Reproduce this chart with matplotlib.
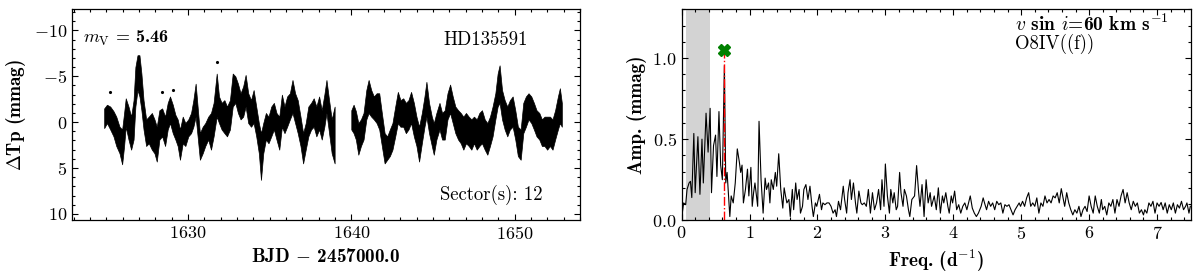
import numpy as np
import matplotlib
matplotlib.use("Agg")
import matplotlib.pyplot as plt
from matplotlib.ticker import MultipleLocator

plt.rcParams["font.family"] = "serif"
plt.rcParams["font.serif"] = ["cmr10"]
plt.rcParams["mathtext.fontset"] = "cm"
plt.rcParams["axes.formatter.use_mathtext"] = True

# light curve: time, bright edge, faint edge (mmag)
lc_time = [1624.87, 1625.04, 1625.24, 1625.44, 1625.61, 1625.81, 1625.97, 1626.09,
           1626.19, 1626.36, 1626.52, 1626.67, 1626.78, 1626.91, 1627.03, 1627.15,
           1627.28, 1627.44, 1627.60, 1627.79, 1627.95, 1628.09, 1628.25, 1628.42,
           1628.60, 1628.76, 1628.90, 1629.07, 1629.23, 1629.37, 1629.51, 1629.68,
           1629.84, 1630.02, 1630.19, 1630.33, 1630.47, 1630.59, 1630.73, 1630.90,
           1631.06, 1631.24, 1631.41, 1631.57, 1631.76, 1631.90, 1632.06, 1632.23,
           1632.39, 1632.57, 1632.74, 1632.90, 1633.06, 1633.22, 1633.38, 1633.53,
           1633.69, 1633.86, 1634.02, 1634.18, 1634.34, 1634.47, 1634.61, 1634.77,
           1634.93, 1635.10, 1635.26, 1635.42, 1635.59, 1635.75, 1635.91, 1636.07,
           1636.24, 1636.40, 1636.56, 1636.72, 1636.89, 1637.05, 1637.21, 1637.37,
           1637.54, 1637.70, 1637.86, 1638.03, 1638.19, 1638.35, 1638.48, 1638.64,
           1638.80, 1638.98,
           1640.00, 1640.14, 1640.28, 1640.43, 1640.59, 1640.75, 1640.92, 1641.06,
           1641.22, 1641.38, 1641.55, 1641.71, 1641.87, 1642.04, 1642.20, 1642.36,
           1642.52, 1642.69, 1642.85, 1643.01, 1643.18, 1643.34, 1643.50, 1643.66,
           1643.83, 1643.99, 1644.15, 1644.32, 1644.48, 1644.60, 1644.76, 1644.93,
           1645.05, 1645.21, 1645.40, 1645.56, 1645.72, 1645.89, 1646.05, 1646.21,
           1646.37, 1646.54, 1646.70, 1646.86, 1647.02, 1647.19, 1647.35, 1647.51,
           1647.68, 1647.84, 1648.00, 1648.17, 1648.33, 1648.49, 1648.65, 1648.82,
           1648.96, 1649.08, 1649.23, 1649.39, 1649.55, 1649.71, 1649.88, 1650.04,
           1650.20, 1650.37, 1650.53, 1650.69, 1650.85, 1651.02, 1651.18, 1651.34,
           1651.51, 1651.67, 1651.83, 1651.99, 1652.16, 1652.32, 1652.48, 1652.65,
           1652.77, 1652.89]
lc_bright = [-1.5, -1.9, -1.7, -1.2, -0.6, 0.5, 0.8, -1.0,
             -2.6, -1.7, -0.6, -2.4, -6.0, -7.3, -7.3, -5.3,
             -2.4, -0.3, -0.6, -1.0, -0.3, 0.5, -1.3, -1.5,
             -0.6, -2.1, -2.8, -1.9, -0.8, -0.3, 0.8, -0.6,
             0.1, -0.3, -1.0, -2.4, -4.2, -1.7, 1.2, 0.5,
             0.1, -0.6, -1.0, -2.1, -5.3, -2.8, -2.1, -2.4,
             -1.7, -2.4, -5.3, -5.0, -4.2, -3.15, -3.9, -5.15,
             -3.15, -2.4, -3.5, -1.7, 0.1, 1.2, 0.1, -1.0,
             -0.6, -1.7, -2.1, -1.0, -0.6, -3.0, -1.7, -2.8,
             -3.15, -4.6, -3.15, -2.4, -0.6, 1.2, 0.1, -1.7,
             -2.1, -2.6, -1.7, -2.8, -1.3, -3.0, -4.6, -2.4,
             -0.3, -1.7,
             -1.3, -1.9, -1.2, 0.1, -0.3, -1.0, -3.5, -4.6,
             -3.5, -2.8, -3.15, -3.15, -1.0, 1.2, 1.55, 0.8,
             0.1, -1.7, -3.3, -2.4, -2.6, -2.1, -2.4, -3.3,
             -2.1, -0.6, 0.5, -1.0, -2.8, -4.4, -2.1, -0.6,
             0.1, -1.0, -2.1, -1.0, -1.3, -3.15, -4.1, -2.8,
             -1.7, -1.3, -1.0, -0.6, -1.0, -0.6, -0.3, -0.6,
             -0.3, -1.0, -1.3, -0.3, 0.1, -0.6, -1.7, -3.15,
             -5.3, -6.2, -3.5, -2.4, -1.7, -2.4, -2.8, -1.3,
             0.5, 0.8, -2.1, -2.8, -3.15, -2.8, -2.1, -1.3,
             -1.0, -0.3, -0.6, -0.6, -0.6, -0.3, -1.3, -2.8,
             -3.7, -2.1]
lc_faint = [0.65, 0.1, 0.8, 1.55, 2.6, 3.4, 4.6, 2.6,
            0.5, 1.9, 3.0, 1.9, -1.7, -3.5, -2.8, -1.3,
            0.8, 2.6, 2.3, 3.0, 3.4, 4.3, 1.9, 1.55,
            2.6, 0.8, 0.1, 1.2, 1.9, 2.6, 4.1, 2.3,
            2.6, 1.55, 1.2, 0.5, -0.6, 1.55, 4.1, 3.4,
            2.6, 1.9, 3.0, 1.55, -0.6, 0.1, 0.8, 1.2,
            1.55, 0.8, -1.7, -2.1, -1.0, -0.3, -0.6, -1.7,
            0.1, 0.5, 0.1, 1.55, 3.4, 6.3, 3.4, 1.9,
            2.3, 1.55, 0.8, 1.9, 3.0, 0.5, 1.2, 0.5,
            -0.3, -1.0, 0.1, 1.2, 2.6, 4.5, 3.0, 1.55,
            0.8, 0.5, 1.55, 0.8, 1.9, 0.5, -1.0, 1.2,
            3.4, 4.5,
            0.8, 1.2, 1.9, 3.55, 2.6, 1.9, -0.3, -1.0,
            -0.6, -0.3, 0.1, 0.8, 2.6, 4.5, 4.1, 3.7,
            3.0, 1.55, 0.1, 0.5, 0.5, 1.2, 0.8, 0.1,
            1.55, 2.6, 4.3, 2.3, 0.5, -0.6, 1.2, 2.6,
            3.55, 1.9, 0.8, 1.9, 1.9, -0.3, -1.0, 0.1,
            1.2, 1.9, 2.3, 3.0, 2.3, 2.6, 3.0, 2.3,
            3.0, 2.6, 2.3, 3.0, 3.55, 2.6, 1.55, -0.3,
            -1.7, -2.1, -0.3, 0.8, 1.55, 0.8, 0.5, 1.9,
            3.7, 4.1, 1.2, 0.5, -0.3, 0.1, 0.8, 1.55,
            1.9, 2.6, 2.6, 3.0, 2.6, 3.0, 1.9, 0.8,
            0.1, 0.5]
# a few isolated points
out_time = [1625.24, 1628.43, 1629.07, 1631.75]
out_flux = [-3.3, -3.3, -3.55, -6.6]

# amplitude spectrum
freq = [0.01, 0.03, 0.06, 0.08, 0.11, 0.13, 0.15, 0.18, 0.20, 0.24, 0.27, 0.30,
        0.32, 0.36, 0.39, 0.42, 0.44, 0.47, 0.50, 0.52, 0.55, 0.575, 0.60, 0.63,
        0.65, 0.67, 0.71, 0.73, 0.76, 0.79, 0.82, 0.85, 0.87, 0.89, 0.91, 0.94,
        0.97, 0.99, 1.02, 1.04, 1.06, 1.08, 1.12, 1.14, 1.17, 1.20, 1.23, 1.25,
        1.28, 1.30, 1.32, 1.35, 1.38, 1.40, 1.43, 1.46, 1.49, 1.51, 1.53, 1.55,
        1.58, 1.60, 1.63, 1.65, 1.68, 1.70, 1.73, 1.75, 1.78, 1.80, 1.83, 1.86,
        1.89, 1.92, 1.94, 1.97, 1.99, 2.03, 2.06, 2.08, 2.11, 2.14, 2.17, 2.20,
        2.23, 2.26, 2.28, 2.31, 2.34, 2.38, 2.40, 2.43, 2.45, 2.48, 2.50, 2.53,
        2.56, 2.58, 2.61, 2.64, 2.66, 2.69, 2.72, 2.75, 2.78, 2.81, 2.84, 2.87,
        2.90, 2.93, 2.95, 2.98, 3.00, 3.03, 3.06, 3.08, 3.11, 3.13, 3.16, 3.18,
        3.21, 3.23, 3.26, 3.28, 3.31, 3.34, 3.36, 3.39, 3.43, 3.46, 3.49, 3.51,
        3.54, 3.57, 3.60, 3.63, 3.66, 3.68, 3.72, 3.75, 3.78, 3.81, 3.84, 3.86,
        3.89, 3.92, 3.94, 3.97, 3.99, 4.02, 4.05, 4.08, 4.11, 4.14, 4.17, 4.20,
        4.23, 4.25, 4.28, 4.31, 4.34, 4.37, 4.41, 4.44, 4.46, 4.49, 4.52, 4.55,
        4.58, 4.61, 4.64, 4.67, 4.70, 4.73, 4.76, 4.79, 4.82, 4.85, 4.88, 4.91,
        4.94, 4.97, 4.99, 5.02, 5.05, 5.08, 5.11, 5.14, 5.17, 5.20, 5.23, 5.26,
        5.29, 5.32, 5.35, 5.38, 5.41, 5.44, 5.47, 5.50, 5.53, 5.56, 5.59, 5.62,
        5.64, 5.67, 5.70, 5.73, 5.76, 5.79, 5.82, 5.85, 5.88, 5.91, 5.94, 5.97,
        6.00, 6.03, 6.06, 6.09, 6.12, 6.15, 6.18, 6.20, 6.23, 6.26, 6.29, 6.32,
        6.35, 6.38, 6.41, 6.44, 6.47, 6.50, 6.53, 6.56, 6.59, 6.62, 6.65, 6.68,
        6.71, 6.74, 6.77, 6.80, 6.82, 6.85, 6.88, 6.91, 6.94, 6.97, 7.00, 7.03,
        7.06, 7.09, 7.12, 7.15, 7.18, 7.21, 7.24, 7.27, 7.30, 7.33, 7.36, 7.39,
        7.42, 7.44, 7.47, 7.49]
amp = [0.044, 0.107, 0.096, 0.19, 0.23, 0.24, 0.14, 0.535, 0.17, 0.515, 0.16, 0.50,
       0.23, 0.66, 0.42, 0.69, 0.17, 0.46, 0.525, 0.27, 0.67, 0.34, 0.25, 0.954,
       0.23, 0.295, 0.023, 0.15, 0.107, 0.23, 0.44, 0.36, 0.295, 0.34, 0.107, 0.19,
       0.315, 0.15, 0.326, 0.086, 0.17, 0.23, 0.086, 0.61, 0.25, 0.044, 0.26, 0.19,
       0.23, 0.107, 0.25, 0.19, 0.295, 0.21, 0.41, 0.19, 0.075, 0.20, 0.15, 0.107,
       0.128, 0.023, 0.19, 0.065, 0.23, 0.128, 0.19, 0.044, 0.086, 0.19, 0.22, 0.128,
       0.21, 0.086, 0.023, 0.107, 0.086, 0.16, 0.065, 0.107, 0.096, 0.107, 0.107, 0.086,
       0.044, 0.065, 0.023, 0.117, 0.065, 0.21, 0.128, 0.044, 0.17, 0.25, 0.128, 0.23,
       0.107, 0.044, 0.18, 0.107, 0.096, 0.107, 0.086, 0.19, 0.044, 0.17, 0.065, 0.107,
       0.19, 0.065, 0.25, 0.086, 0.347, 0.15, 0.044, 0.19, 0.107, 0.17, 0.065, 0.086,
       0.295, 0.17, 0.086, 0.19, 0.15, 0.065, 0.023, 0.128, 0.15, 0.337, 0.17, 0.086,
       0.22, 0.023, 0.25, 0.107, 0.17, 0.086, 0.15, 0.065, 0.20, 0.044, 0.15, 0.107,
       0.17, 0.086, 0.044, 0.15, 0.107, 0.18, 0.065, 0.096, 0.044, 0.086, 0.107, 0.065,
       0.117, 0.15, 0.075, 0.044, 0.023, 0.044, 0.086, 0.138, 0.107, 0.065, 0.117, 0.086,
       0.107, 0.065, 0.117, 0.096, 0.107, 0.044, 0.096, 0.086, 0.096, 0.065, 0.033, 0.065,
       0.086, 0.107, 0.086, 0.117, 0.086, 0.138, 0.17, 0.086, 0.107, 0.086, 0.138, 0.044,
       0.107, 0.086, 0.15, 0.107, 0.128, 0.107, 0.15, 0.138, 0.17, 0.107, 0.195, 0.128,
       0.086, 0.17, 0.107, 0.065, 0.033, 0.065, 0.044, 0.086, 0.023, 0.065, 0.086, 0.054,
       0.15, 0.086, 0.044, 0.15, 0.086, 0.044, 0.128, 0.065, 0.086, 0.033, 0.107, 0.086,
       0.128, 0.044, 0.128, 0.086, 0.15, 0.19, 0.107, 0.17, 0.107, 0.065, 0.117, 0.086,
       0.107, 0.044, 0.065, 0.033, 0.065, 0.044, 0.107, 0.086, 0.117, 0.044, 0.107, 0.086,
       0.11, 0.065, 0.107, 0.044, 0.096, 0.065, 0.107, 0.044, 0.096, 0.075, 0.117, 0.065,
       0.086, 0.107, 0.044, 0.086]

f_peak = 0.63
a_mark = 1.048
low_freq_band = (0.06, 0.42)

fig = plt.figure(figsize=(12, 2.75), dpi=100)
ax1 = fig.add_axes([0.06, 0.199, 0.4233, 0.767])
ax2 = fig.add_axes([0.568, 0.199, 0.4245, 0.767])

# --- light curve ---
t = np.array(lc_time)
hi = np.array(lc_bright)
lo = np.array(lc_faint)
cut = np.argmax(np.diff(t) > 0.5) + 1
for s in (slice(0, cut), slice(cut, None)):
    ax1.fill_between(t[s], hi[s], lo[s], color="k", lw=0.5, edgecolor="k")
ax1.plot(out_time, out_flux, "k.", ms=2.5)

ax1.set_xlim(1622.9, 1654.0)
ax1.set_ylim(10.7, -12.3)
ax1.xaxis.set_major_locator(MultipleLocator(10))
ax1.xaxis.set_minor_locator(MultipleLocator(1))
ax1.yaxis.set_major_locator(MultipleLocator(5))
ax1.yaxis.set_minor_locator(MultipleLocator(1))
ax1.set_xlabel("BJD $-$ 2457000.0", family="cmb10", fontsize=13.8)
ax1.set_ylabel(r"$\Delta$Tp (mmag)", family="cmb10", fontsize=13.8)
ax1.text(0.022, 0.84, r"$m_{\rm V}$ = 5.46", transform=ax1.transAxes,
         family="cmb10", fontsize=13, va="baseline", ha="left")
ax1.text(0.898, 0.831, "HD135591", transform=ax1.transAxes,
         fontsize=13.5, va="baseline", ha="right")
ax1.text(0.927, 0.096, "Sector(s): 12", transform=ax1.transAxes,
         fontsize=13.5, va="baseline", ha="right")

# --- amplitude spectrum ---
ax2.axvspan(*low_freq_band, color="lightgrey", lw=0, zorder=0)
ax2.plot(freq, amp, color="k", lw=0.8)
ax2.plot([f_peak, f_peak], [0, a_mark], color="red", ls="-.", lw=1.0)
ax2.plot(f_peak, a_mark, marker="X", color="green", ms=9, mec="green")

ax2.set_xlim(0, 7.5)
ax2.set_ylim(0, 1.3)
ax2.xaxis.set_major_locator(MultipleLocator(1))
ax2.xaxis.set_minor_locator(MultipleLocator(0.2))
ax2.yaxis.set_major_locator(MultipleLocator(0.5))
ax2.yaxis.set_minor_locator(MultipleLocator(0.1))
ax2.set_xlabel("Freq. (d$^{-1}$)", family="cmb10", fontsize=13.8)
ax2.set_ylabel("Amp. (mmag)", family="cmb10", fontsize=13.8)
ax2.text(0.654, 0.895, r"$v$ sin $i$=60 km s$^{-1}$", transform=ax2.transAxes,
         family="cmb10", fontsize=14, va="baseline", ha="left")
ax2.text(0.654, 0.813, "O8IV((f))", transform=ax2.transAxes,
         fontsize=13.5, va="baseline", ha="left")

for ax in (ax1, ax2):
    ax.tick_params(which="both", direction="in", top=True, right=True,
                   labelsize=13)
    ax.tick_params(which="major", length=4.5, width=0.8)
    ax.tick_params(which="minor", length=2.2, width=0.8)
    for sp in ax.spines.values():
        sp.set_linewidth(0.9)

fig.savefig("out.png", dpi=100)
